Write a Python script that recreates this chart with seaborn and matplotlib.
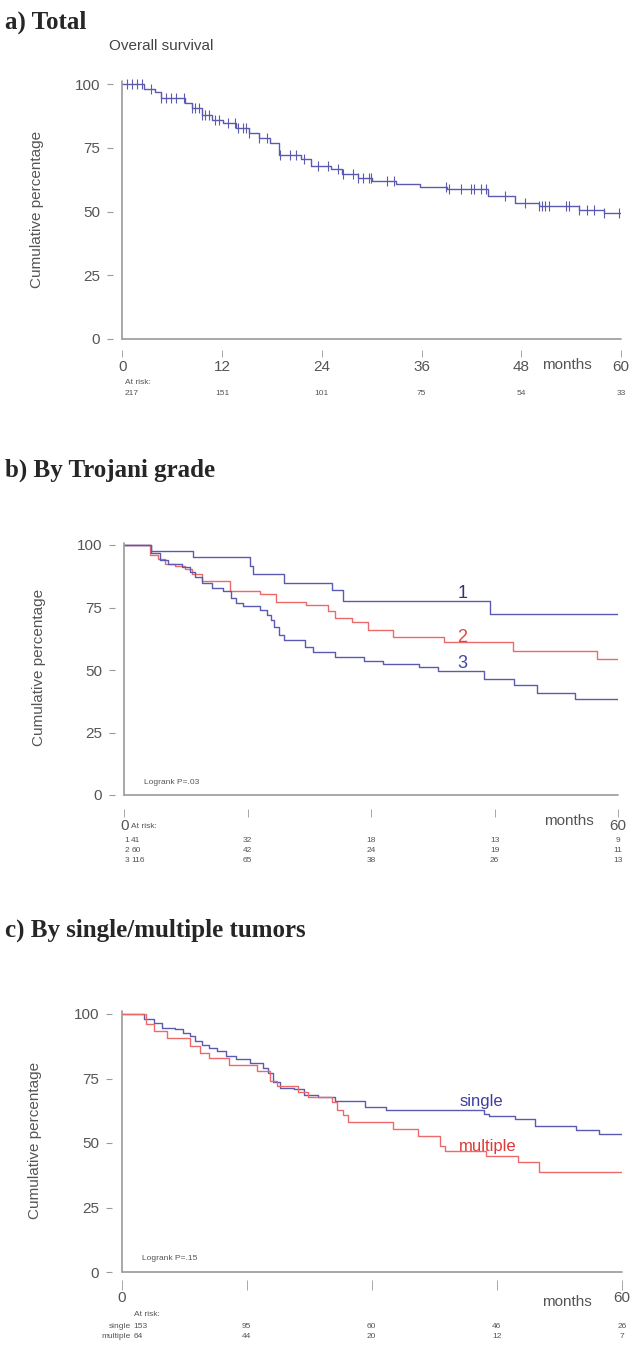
import numpy as np
import pandas as pd
import matplotlib
matplotlib.use('Agg')
import matplotlib.pyplot as plt
import matplotlib.transforms as mtransforms
import seaborn as sns

# ---------------- data ----------------
# a) Total - overall survival (step curve + censor marks)
total_t = [0, 2.6, 3.9, 4.7, 7.6, 8.4, 9.6, 10.8, 12.1, 13.7, 15.3, 16.5, 17.8, 18.8,
           21.5, 22.7, 25.1, 26.4, 28.4, 30.1, 32.9, 35.8, 39.1, 44.0, 47.3, 50.1, 55.0, 57.9]
total_s = [100, 98.0, 96.7, 94.7, 92.7, 90.7, 88.0, 86.0, 84.7, 82.7, 80.7, 78.7, 76.7, 72.0,
           70.7, 68.0, 66.7, 64.7, 63.3, 62.0, 60.7, 59.6, 58.7, 56.0, 53.3, 52.0, 50.7, 49.3]
total_cens = [0.6, 1.2, 1.8, 2.4, 3.5, 4.7, 5.3, 5.9, 6.5, 7.4, 8.4, 8.8, 9.2, 9.6, 10.0, 10.4,
              11.2, 11.6, 12.7, 13.5, 13.9, 14.5, 14.9, 15.3, 16.5, 17.4, 19.0, 20.2, 20.9,
              21.9, 23.5, 24.7, 26.0, 26.6, 27.8, 28.4, 29.0, 29.7, 29.9, 31.9, 32.7, 38.9,
              39.3, 40.7, 41.9, 42.3, 43.2, 43.8, 46.0, 48.5, 50.1, 50.5, 50.9, 51.3, 53.4,
              53.8, 55.0, 55.9, 56.7, 57.9, 59.7]
total_risk_t = [0, 12, 24, 36, 48, 60]
total_risk_n = [217, 151, 101, 75, 54, 33]

# b) By Trojani grade
g1_t = [0, 3.3, 8.4, 15.3, 15.6, 19.4, 25.2, 26.6, 44.5]
g1_s = [100, 97.6, 95.1, 91.7, 88.3, 85.0, 82.2, 77.5, 72.3]
g2_t = [0, 3.1, 4.1, 4.9, 6.15, 7.4, 8.2, 9.5, 12.8, 16.5, 18.4, 22.1, 24.8, 25.6, 27.7,
        29.6, 32.7, 38.9, 47.2, 57.5]
g2_s = [100, 95.9, 94.6, 92.5, 91.8, 90.5, 88.4, 85.7, 81.6, 80.3, 77.3, 76.0, 73.5, 71.0,
        69.4, 66.0, 63.3, 61.2, 57.8, 54.4]
g3_t = [0, 3.25, 4.3, 5.3, 7.0, 8.0, 8.6, 9.5, 10.7, 12.0, 13.0, 13.6, 14.4, 16.5, 17.3,
        17.8, 18.2, 18.8, 19.4, 21.9, 22.9, 25.6, 29.1, 31.4, 35.8, 38.1, 43.7, 47.4, 50.1, 54.8]
g3_s = [100, 96.9, 93.9, 92.5, 91.2, 89.1, 87.1, 85.0, 83.0, 81.6, 78.9, 76.9, 75.5, 74.1,
        72.1, 70.1, 67.4, 64.0, 61.9, 59.2, 57.2, 55.1, 53.8, 52.4, 51.1, 49.7, 46.3, 44.2,
        40.8, 38.5]
grade_labels = ['1', '2', '3']
grade_risk_t = [0, 15, 30, 45, 60]
grade_risk_n = [[41, 32, 18, 13, 9], [60, 42, 24, 19, 11], [116, 65, 38, 26, 13]]

# c) By single/multiple tumors
single_t = [0, 2.7, 3.95, 4.8, 6.4, 7.4, 8.2, 8.8, 9.65, 10.5, 11.5, 12.5, 13.7, 15.4, 17.0,
            17.6, 18.2, 19.0, 20.7, 21.9, 23.5, 25.6, 29.2, 31.7, 43.5, 44.1, 47.2, 49.6,
            54.5, 57.2]
single_s = [100, 98.0, 96.7, 94.7, 94.0, 92.7, 91.4, 89.4, 88.1, 86.8, 85.5, 83.9, 82.6,
            80.9, 79.2, 77.0, 73.7, 71.3, 70.8, 68.5, 67.8, 66.2, 63.8, 62.9, 61.2, 60.5,
            59.2, 56.6, 55.2, 53.3]
multi_t = [0, 2.9, 3.95, 5.4, 8.2, 9.45, 10.5, 12.9, 16.2, 17.8, 18.6, 21.1, 22.3, 25.2,
           25.8, 26.6, 27.2, 32.5, 35.6, 38.2, 38.8, 43.7, 47.5, 50.0]
multi_s = [100, 96.0, 93.4, 90.8, 87.5, 84.9, 83.0, 80.4, 77.8, 73.9, 71.9, 69.9, 67.9,
           66.0, 62.7, 60.7, 58.1, 55.5, 52.8, 48.9, 46.9, 44.9, 42.5, 38.8]
tumor_labels = ['single', 'multiple']
tumor_risk_t = [0, 15, 30, 45, 60]
tumor_risk_n = [[153, 95, 60, 46, 26], [64, 44, 20, 12, 7]]

yticks = [0, 25, 50, 75, 100]

# ---------------- style ----------------
sns.set_theme(style='white')
plt.rcParams['font.family'] = ['Liberation Sans', 'DejaVu Sans']

W, H = 634, 1345
BLUE = '#5a5ab0'
RED = '#ec6a6a'
GREY = '#555555'
AXC = '#9a9a9a'

fig = plt.figure(figsize=(W / 100, H / 100), dpi=100)


def make_ax(x0, x60, y0, y100, ytop=102):
    # axes placed from pixel positions of x=0, x=60, y=0, y=100
    ppu = (y0 - y100) / 100
    ax = fig.add_axes([x0 / W, 1 - y0 / H, (x60 - x0) / W, ytop * ppu / H])
    ax.set_xlim(0, 60)
    ax.set_ylim(0, ytop)
    return ax


def style_ax(ax, xticks, xlabels, bot_off, tick_len, pad):
    for s in ['top', 'right']:
        ax.spines[s].set_visible(False)
    ax.spines['left'].set_position(('outward', 7))
    ax.spines['bottom'].set_position(('outward', bot_off))
    ax.spines['left'].set_visible(False)
    ax.spines['bottom'].set_visible(False)
    ax.axvline(0, ymax=101 / 102, color=AXC, lw=1.2, clip_on=False)
    ax.axhline(0, color=AXC, lw=1.2, clip_on=False)
    ax.set_yticks(yticks)
    ax.set_yticklabels([str(v) for v in yticks])
    ax.set_xticks(xticks)
    ax.set_xticklabels(xlabels)
    ax.tick_params(axis='y', direction='out', length=4, width=0.8, color=AXC,
                   labelsize=11, labelcolor=GREY, pad=5, left=True)
    ax.tick_params(axis='x', direction='out', length=tick_len, width=0.6, color=AXC,
                   labelsize=11, labelcolor=GREY, pad=pad, bottom=True)
    ax.set_xlabel('')
    ax.set_ylabel('Cumulative percentage', fontsize=11, color=GREY)
    ax.yaxis.set_label_coords(-0.158, 0.5)


def step_df(t, s, name):
    return pd.DataFrame({'month': list(t) + [60], 'pct': list(s) + [s[-1]], 'group': name})


def risk_table(ax, times, rows, labels, y_head, y_rows, x_first):
    tr = mtransforms.blended_transform_factory(ax.transData, fig.transFigure)
    ax.text(x_first, 1 - y_head / H, 'At risk:', transform=tr, fontsize=6,
            color=GREY, ha='left', va='center')
    for lab, counts, yr in zip(labels, rows, y_rows):
        if lab:
            ax.text(x_first - 0.3, 1 - yr / H, lab, transform=tr, fontsize=6,
                    color=GREY, ha='right', va='center')
        for i, (tm, n) in enumerate(zip(times, counts)):
            ax.text(x_first if i == 0 else tm, 1 - yr / H, str(n), transform=tr,
                    fontsize=6, color=GREY, ha='left' if i == 0 else 'center', va='center')


# ---------------- a) Total ----------------
fig.text(5 / W, 1 - 22 / H, 'a) Total', fontsize=18, fontweight='bold',
         family='Liberation Serif', ha='left', va='center')
fig.text(109 / W, 1 - 46 / H, 'Overall survival', fontsize=11, color='#444444',
         ha='left', va='center')

axa = make_ax(122.3, 621, 339, 84)
dfa = step_df(total_t, total_s, 'total')
sns.lineplot(data=dfa, x='month', y='pct', color=BLUE, lw=1.0, drawstyle='steps-post',
             estimator=None, ax=axa)
tt = np.array(total_t)
cens_y = np.array(total_s)[np.searchsorted(tt, total_cens, side='right') - 1]
axa.plot(total_cens, cens_y, ls='none', marker='|', ms=7, mew=0.8, color=BLUE)
style_ax(axa, total_risk_t, [str(v) for v in total_risk_t], 8, 5, 2)
tra = mtransforms.blended_transform_factory(axa.transData, fig.transFigure)
axa.text(53.5, 1 - 365 / H, 'months', transform=tra, fontsize=11, color=GREY,
         ha='center', va='center')
risk_table(axa, total_risk_t, [total_risk_n], [''], 382, [394], 0.3)

# ---------------- b) By Trojani grade ----------------
fig.text(5 / W, 1 - 470 / H, 'b) By Trojani grade', fontsize=18, fontweight='bold',
         family='Liberation Serif', ha='left', va='center')
axb = make_ax(124.3, 618, 795, 545)
dfb = pd.concat([step_df(g1_t, g1_s, '1'), step_df(g2_t, g2_s, '2'),
                 step_df(g3_t, g3_s, '3')])
sns.lineplot(data=dfb, x='month', y='pct', hue='group',
             palette={'1': BLUE, '2': RED, '3': BLUE}, lw=1.0, drawstyle='steps-post',
             estimator=None, legend=False, ax=axb)
style_ax(axb, grade_risk_t, ['0', '', '', '', '60'], 10, 6, 1)
axb.text(41.1, 80.8, '1', color='#33337f', fontsize=13, ha='center', va='center')
axb.text(41.1, 63.2, '2', color='#e04848', fontsize=13, ha='center', va='center')
axb.text(41.1, 52.4, '3', color='#4646a8', fontsize=13, ha='center', va='center')
axb.text(2.4, 5.2, 'Logrank P=.03', fontsize=6, color=GREY, ha='left', va='center')
trb = mtransforms.blended_transform_factory(axb.transData, fig.transFigure)
axb.text(54, 1 - 821 / H, 'months', transform=trb, fontsize=11, color=GREY,
         ha='center', va='center')
risk_table(axb, grade_risk_t, grade_risk_n, grade_labels, 827, [841, 851, 861], 0.85)

# ---------------- c) By single/multiple tumors ----------------
fig.text(5 / W, 1 - 930 / H, 'c) By single/multiple tumors', fontsize=18,
         fontweight='bold', family='Liberation Serif', ha='left', va='center')
axc = make_ax(121.5, 622, 1272, 1014)
dfc = pd.concat([step_df(single_t, single_s, 'single'),
                 step_df(multi_t, multi_s, 'multiple')])
sns.lineplot(data=dfc, x='month', y='pct', hue='group',
             palette={'single': BLUE, 'multiple': RED}, lw=1.0, drawstyle='steps-post',
             estimator=None, legend=False, ax=axc)
style_ax(axc, tumor_risk_t, ['0', '', '', '', '60'], 6, 7, 1)
axc.text(40.5, 65.9, 'single', color='#3e3ea2', fontsize=12, ha='left', va='center')
axc.text(40.5, 48.6, 'multiple', color='#e03838', fontsize=12, ha='left', va='center')
axc.text(2.4, 5.4, 'Logrank P=.15', fontsize=6, color=GREY, ha='left', va='center')
trc = mtransforms.blended_transform_factory(axc.transData, fig.transFigure)
axc.text(53.4, 1 - 1302 / H, 'months', transform=trc, fontsize=11, color=GREY,
         ha='center', va='center')
risk_table(axc, tumor_risk_t, tumor_risk_n, tumor_labels, 1315, [1327, 1337], 1.45)

fig.savefig('out.png', dpi=100)
